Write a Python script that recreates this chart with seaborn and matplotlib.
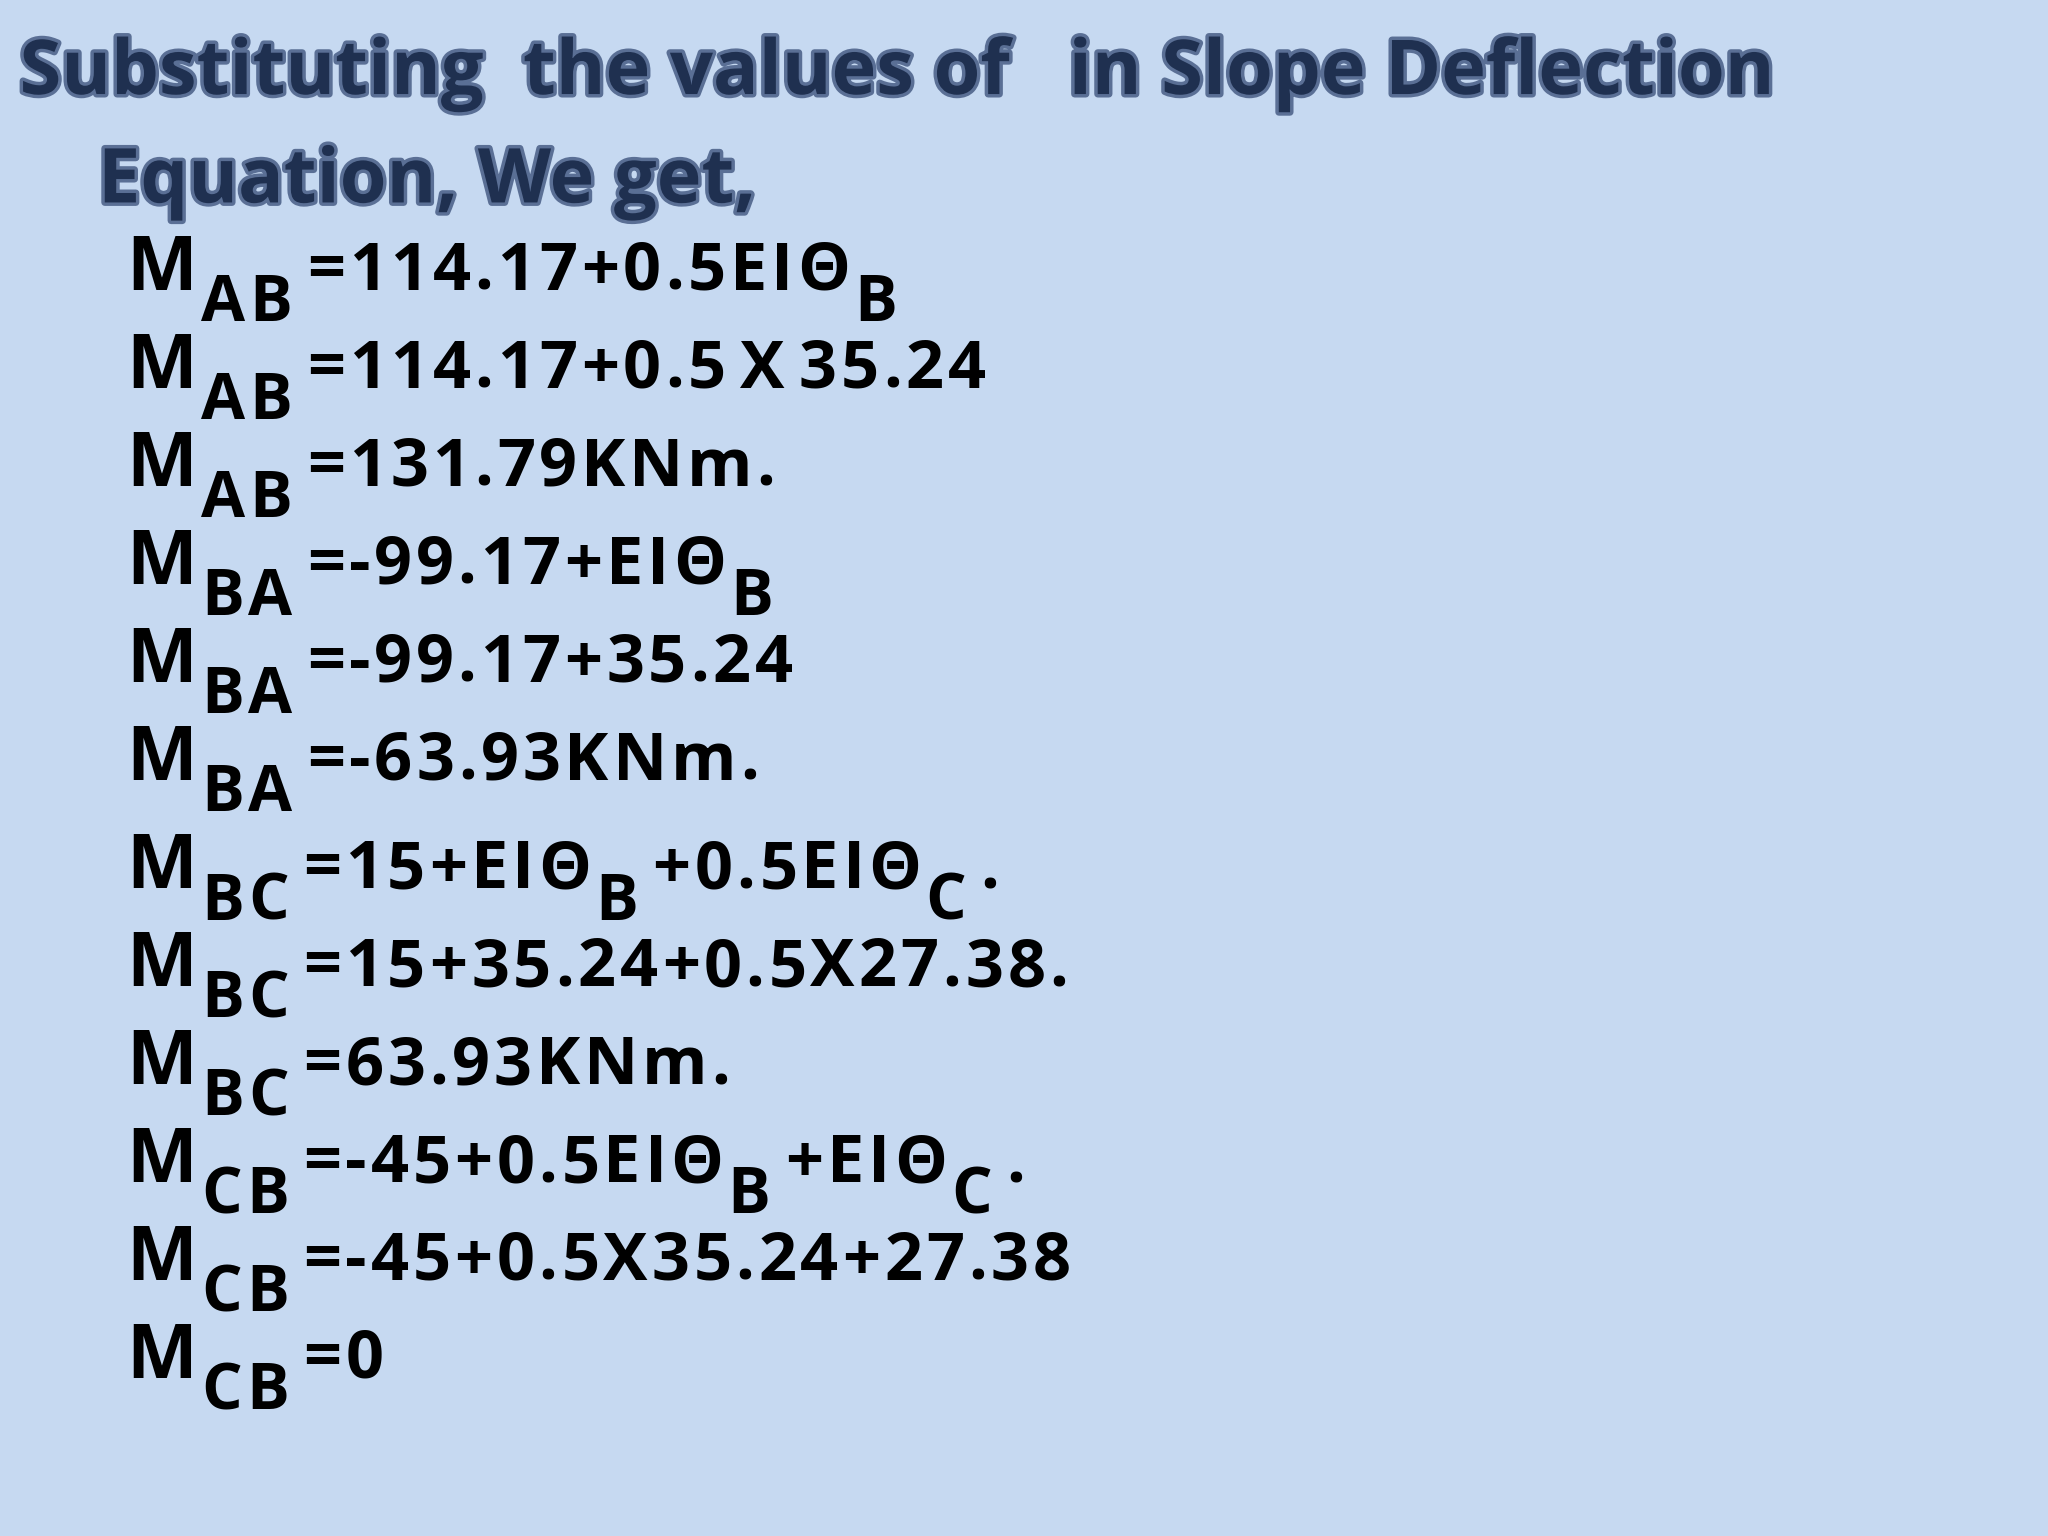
import matplotlib.pyplot as plt
import matplotlib.patheffects as pe
import seaborn as sns

sns.set_theme(style="white")
plt.rcParams['font.family'] = ['Open Sans', 'DejaVu Sans']

title_lines = ["Substituting  the values of   in Slope Deflection", "Equation, We get,"]
title_x = [15, 75]

# each equation: list of (text, is_subscript)
equations = [
    [("M", 0), ("AB", 1), ("=114.17+0.5EIΘ", 0), ("B", 1)],
    [("M", 0), ("AB", 1), ("=114.17+0.5 X 35.24", 0)],
    [("M", 0), ("AB", 1), ("=131.79KNm.", 0)],
    [("M", 0), ("BA", 1), ("=-99.17+EIΘ", 0), ("B", 1)],
    [("M", 0), ("BA", 1), ("=-99.17+35.24", 0)],
    [("M", 0), ("BA", 1), ("=-63.93KNm.", 0)],
    [("M", 0), ("BC", 1), ("=15+EIΘ", 0), ("B", 1), ("+0.5EIΘ", 0), ("C", 1), (".", 0)],
    [("M", 0), ("BC", 1), ("=15+35.24+0.5X27.38.", 0)],
    [("M", 0), ("BC", 1), ("=63.93KNm.", 0)],
    [("M", 0), ("CB", 1), ("=-45+0.5EIΘ", 0), ("B", 1), ("+EIΘ", 0), ("C", 1), (".", 0)],
    [("M", 0), ("CB", 1), ("=-45+0.5X35.24+27.38", 0)],
    [("M", 0), ("CB", 1), ("=0", 0)],
]
line_y = [222, 297, 372, 447, 522, 597, 680, 755, 830, 905, 980, 1055]  # baselines in 1568x1176 units

W, H = 1568, 1176
fig = plt.figure(figsize=(20.48, 15.36), dpi=100)
fig.patch.set_facecolor("#c6d9f1")
ax = fig.add_axes([0, 0, 1, 1])
ax.set_xlim(0, W)
ax.set_ylim(H, 0)
ax.axis("off")

for txt, x, y in zip(title_lines, title_x, [72, 155]):
    ax.text(x, y, txt, fontsize=54.5, fontweight="bold", color="#1f3050",
            va="baseline", ha="left",
            path_effects=[pe.withStroke(linewidth=5, foreground="#5a6f95")])

fig.canvas.draw()
renderer = fig.canvas.get_renderer()
inv = ax.transData.inverted()
track = 3
for segs, y in zip(equations, line_y):
    x = 97
    for i, (s, sub) in enumerate(segs):
        size = 46 if sub else (54 if i == 0 else 48)
        for ch in s:
            if ch == " ":
                x += 8
                continue
            t = ax.text(x, y + (24 if sub else 0), ch, fontsize=size,
                        fontweight="bold", color="black", va="baseline", ha="left")
            bb = t.get_window_extent(renderer)
            x = inv.transform((bb.x1, 0))[0] + track
        if sub:
            x += 8

fig.savefig("out.png", dpi=100, facecolor=fig.get_facecolor())
